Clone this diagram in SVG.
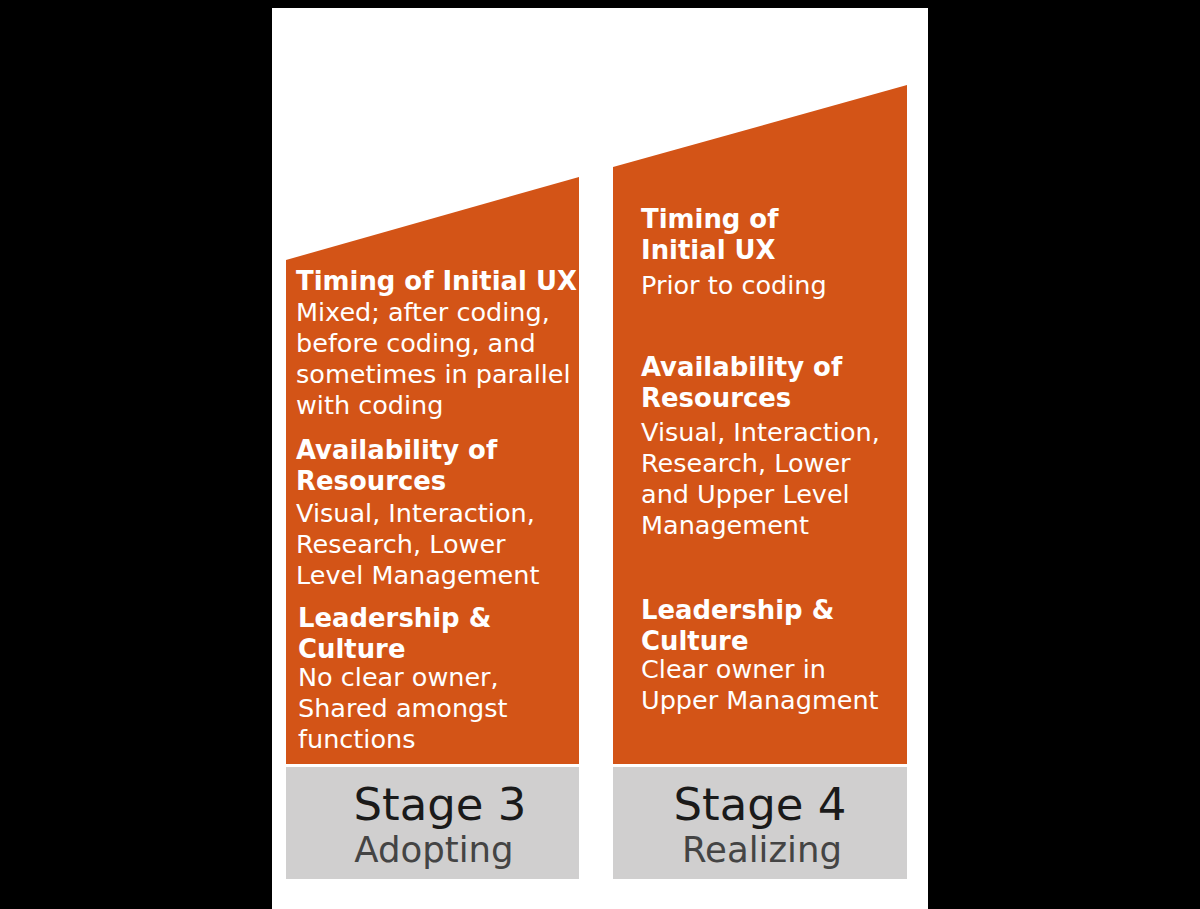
<svg xmlns="http://www.w3.org/2000/svg" width="1200" height="909" viewBox="0 0 1200 909">
<style>
.bg{fill:#000}
.panel{fill:#fff}
.col{fill:#D35417}
.box{fill:#D0CFCF}
text{font-family:"DejaVu Sans",Verdana,sans-serif}
.h{font-weight:bold;font-size:25.9px;fill:#fff}
.b{font-size:25.5px;fill:#fff}
.s{font-size:45px;fill:#1a1a1a;text-anchor:middle}
.n{font-size:35.5px;fill:#444;text-anchor:middle}
</style>
<rect class="bg" x="0" y="0" width="1200" height="909"/>
<rect class="panel" x="272" y="8" width="656" height="901"/>
<g id="stage3">
<polygon class="col" points="286,260 579,177 579,764 286,764"/>
<text class="h" x="296" y="290">Timing of Initial UX</text>
<text class="b" x="296" y="321">Mixed; after coding,</text>
<text class="b" x="296" y="352">before coding, and</text>
<text class="b" x="296" y="383">sometimes in parallel</text>
<text class="b" x="296" y="414">with coding</text>
<text class="h" x="296" y="459">Availability of</text>
<text class="h" x="296" y="490">Resources</text>
<text class="b" x="296" y="522">Visual, Interaction,</text>
<text class="b" x="296" y="553">Research, Lower</text>
<text class="b" x="296" y="584">Level Management</text>
<text class="h" x="298" y="627">Leadership &amp;</text>
<text class="h" x="298" y="658">Culture</text>
<text class="b" x="298" y="686">No clear owner,</text>
<text class="b" x="298" y="717">Shared amongst</text>
<text class="b" x="298" y="748">functions</text>
</g>
<g id="stage3-label">
<rect class="box" x="286" y="767" width="293" height="112"/>
<text class="s" x="440" y="820">Stage 3</text>
<text class="n" x="434" y="862">Adopting</text>
</g>
<g id="stage4">
<polygon class="col" points="613,167 907,85 907,764 613,764"/>
<text class="h" x="641" y="228">Timing of</text>
<text class="h" x="641" y="259">Initial UX</text>
<text class="b" x="641" y="294">Prior to coding</text>
<text class="h" x="641" y="376">Availability of</text>
<text class="h" x="641" y="407">Resources</text>
<text class="b" x="641" y="441">Visual, Interaction,</text>
<text class="b" x="641" y="472">Research, Lower</text>
<text class="b" x="641" y="503">and Upper Level</text>
<text class="b" x="641" y="534">Management</text>
<text class="h" x="641" y="619">Leadership &amp;</text>
<text class="h" x="641" y="650">Culture</text>
<text class="b" x="641" y="678">Clear owner in</text>
<text class="b" x="641" y="709">Upper Managment</text>
</g>
<g id="stage4-label">
<rect class="box" x="613" y="767" width="294" height="112"/>
<text class="s" x="760" y="820">Stage 4</text>
<text class="n" x="762" y="862">Realizing</text>
</g>
<g id="connectors"></g>
</svg>
